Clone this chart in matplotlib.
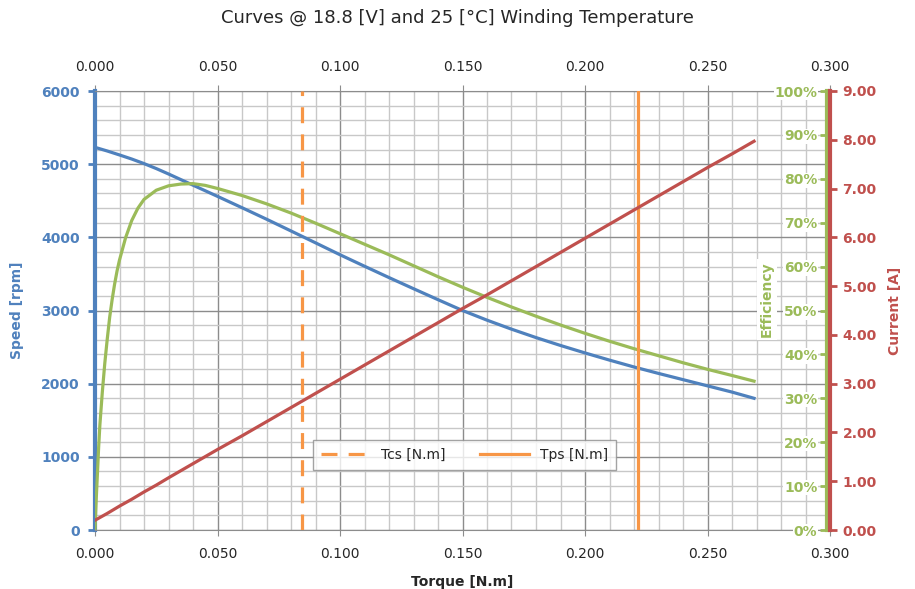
import matplotlib.pyplot as plt
from matplotlib.ticker import MultipleLocator, PercentFormatter, FormatStrFormatter

# values
torque = [0, 0.005, 0.01, 0.015, 0.02, 0.025, 0.03, 0.04, 0.05,
          0.06, 0.07, 0.08, 0.09, 0.10, 0.11, 0.12, 0.13, 0.14, 0.15, 0.16, 0.17,
          0.18, 0.19, 0.20, 0.21, 0.22, 0.23, 0.24, 0.25, 0.26, 0.269]
speed = [5230, 5180, 5126, 5070, 5008, 4940, 4866, 4713, 4560,
         4405, 4248, 4087, 3925, 3762, 3605, 3450, 3298, 3148, 3000, 2868, 2745,
         2630, 2522, 2420, 2322, 2228, 2140, 2055, 1970, 1885, 1800]
current = [0.20, 0.34, 0.49, 0.63, 0.78, 0.92, 1.07, 1.36, 1.65,
           1.93, 2.22, 2.51, 2.80, 3.09, 3.38, 3.67, 3.96, 4.25, 4.54, 4.82, 5.11,
           5.40, 5.69, 5.98, 6.27, 6.56, 6.85, 7.14, 7.43, 7.71, 7.97]

eff_torque = [0, 0.0005, 0.001, 0.0015, 0.002, 0.003, 0.004, 0.005, 0.006, 0.007,
              0.008, 0.009, 0.010, 0.0125, 0.015, 0.0175, 0.02, 0.025, 0.03, 0.035,
              0.04, 0.045, 0.05, 0.06, 0.07, 0.08, 0.09, 0.10, 0.11, 0.12, 0.13,
              0.14, 0.15, 0.16, 0.17, 0.18, 0.19, 0.20, 0.21, 0.22, 0.23, 0.24,
              0.25, 0.26, 0.269]
efficiency = [0, 7, 13, 19, 24, 31.5, 38, 43.5, 48.5, 52.5,
              56, 59, 61.5, 66.6, 70.5, 73.3, 75.3, 77.4, 78.4, 78.8,
              78.9, 78.5, 77.8, 76.2, 74.3, 72.2, 69.9, 67.5, 65.1, 62.7, 60.2,
              57.7, 55.3, 53.0, 50.8, 48.7, 46.7, 44.8, 43.0, 41.3, 39.7, 38.1,
              36.6, 35.2, 33.9]

tcs = 0.0845
tps = 0.2218

BLUE = '#4F81BD'
RED = '#C0504D'
GREEN = '#9BBB59'
ORANGE = '#F79646'
DARK = '#262626'

plt.rcParams['font.family'] = ['DejaVu Sans']

fig = plt.figure(figsize=(9.15, 5.89), dpi=100)
ax = fig.add_axes([95/915, 1-530/589, 735/915, 439/589])

# grid
ax.set_xlim(0, 0.3)
ax.set_ylim(0, 6000)
ax.xaxis.set_major_locator(MultipleLocator(0.05))
ax.xaxis.set_minor_locator(MultipleLocator(0.01))
ax.yaxis.set_major_locator(MultipleLocator(1000))
ax.yaxis.set_minor_locator(MultipleLocator(200))
ax.grid(which='major', color='#8C8C8C', lw=1.0)
ax.grid(which='minor', color='#C8C8C8', lw=1.0)
ax.set_axisbelow(True)
ax.xaxis.set_major_formatter(FormatStrFormatter('%.3f'))
ax.tick_params(axis='x', which='both', length=0, labelsize=10, colors=DARK, pad=8,
               top=True, labeltop=True)
ax.tick_params(axis='x', which='major', length=4, color='#8C8C8C')
ax.tick_params(axis='y', which='minor', length=0)
ax.tick_params(axis='y', which='major', length=5, width=2, color=BLUE, labelcolor=BLUE,
               labelsize=10, pad=6)
for lb in ax.get_yticklabels():
    lb.set_fontweight('bold')
ax.spines['left'].set_color(BLUE)
ax.spines['left'].set_linewidth(3)
for s in ['top', 'bottom']:
    ax.spines[s].set_color('#8C8C8C')
ax.spines['right'].set_visible(False)

ax.set_xlabel('Torque [N.m]', fontsize=10, fontweight='bold', color=DARK, labelpad=10)
ax.set_ylabel('Speed [rpm]', fontsize=10, fontweight='bold', color=BLUE, labelpad=12)

# efficiency axis (labels inside, left of its spine)
ax2 = ax.twinx()
ax2.set_ylim(0, 100)
ax2.yaxis.set_major_locator(MultipleLocator(10))
ax2.yaxis.set_major_formatter(PercentFormatter(decimals=0))
ax2.yaxis.tick_left()
ax2.yaxis.set_label_position('left')
for s in ['top', 'bottom', 'right']:
    ax2.spines[s].set_visible(False)
ax2.spines['left'].set_position(('axes', 0.996))
ax2.spines['left'].set_color(GREEN)
ax2.spines['left'].set_linewidth(3)
ax2.tick_params(axis='y', length=5, width=2, color=GREEN, labelcolor=GREEN,
                labelsize=10, pad=2)
for lb in ax2.get_yticklabels():
    lb.set_fontweight('bold')
    lb.set_bbox(dict(facecolor='white', edgecolor='none', pad=0.5))
ax2.set_ylabel('Efficiency', fontsize=10, fontweight='bold', color=GREEN, labelpad=2,
               bbox=dict(facecolor='white', edgecolor='none', pad=2))
ax2.yaxis.set_label_coords(0.924, 0.525)

# current axis
ax3 = ax.twinx()
ax3.set_ylim(0, 9)
ax3.yaxis.set_major_locator(MultipleLocator(1))
ax3.yaxis.set_major_formatter(FormatStrFormatter('%.2f'))
for s in ['top', 'bottom', 'left']:
    ax3.spines[s].set_visible(False)
ax3.spines['right'].set_color(RED)
ax3.spines['right'].set_linewidth(3)
ax3.tick_params(axis='y', length=5, width=2, color=RED, labelcolor=RED,
                labelsize=10, pad=4)
for lb in ax3.get_yticklabels():
    lb.set_fontweight('bold')
ax3.set_ylabel('Current [A]', fontsize=10, fontweight='bold', color=RED, labelpad=8)

# curves
ax.plot(torque, speed, color=BLUE, lw=2.3, zorder=3)
ax2.plot(eff_torque, efficiency, color=GREEN, lw=2.3, zorder=3)
ax3.plot(torque, current, color=RED, lw=2.3, zorder=3)
l1 = ax3.axvline(tcs, color=ORANGE, lw=2.3, ls=(0, (5, 3.5)), label='Tcs [N.m]')
l2 = ax3.axvline(tps, color=ORANGE, lw=2.3, label='Tps [N.m]')

leg = ax3.legend(handles=[l1, l2], ncol=2, loc='center', bbox_to_anchor=(0.503, 0.171),
                 fontsize=10, frameon=True, fancybox=False, handlelength=3.5,
                 columnspacing=2.5, borderpad=0.6)
leg.get_frame().set_edgecolor('#8C8C8C')
leg.get_frame().set_linewidth(1)
for t in leg.get_texts():
    t.set_color(DARK)

fig.suptitle('Curves @ 18.8 [V] and 25 [°C] Winding Temperature', fontsize=13,
             color=DARK, y=0.985)

fig.savefig('out.png', dpi=100)
